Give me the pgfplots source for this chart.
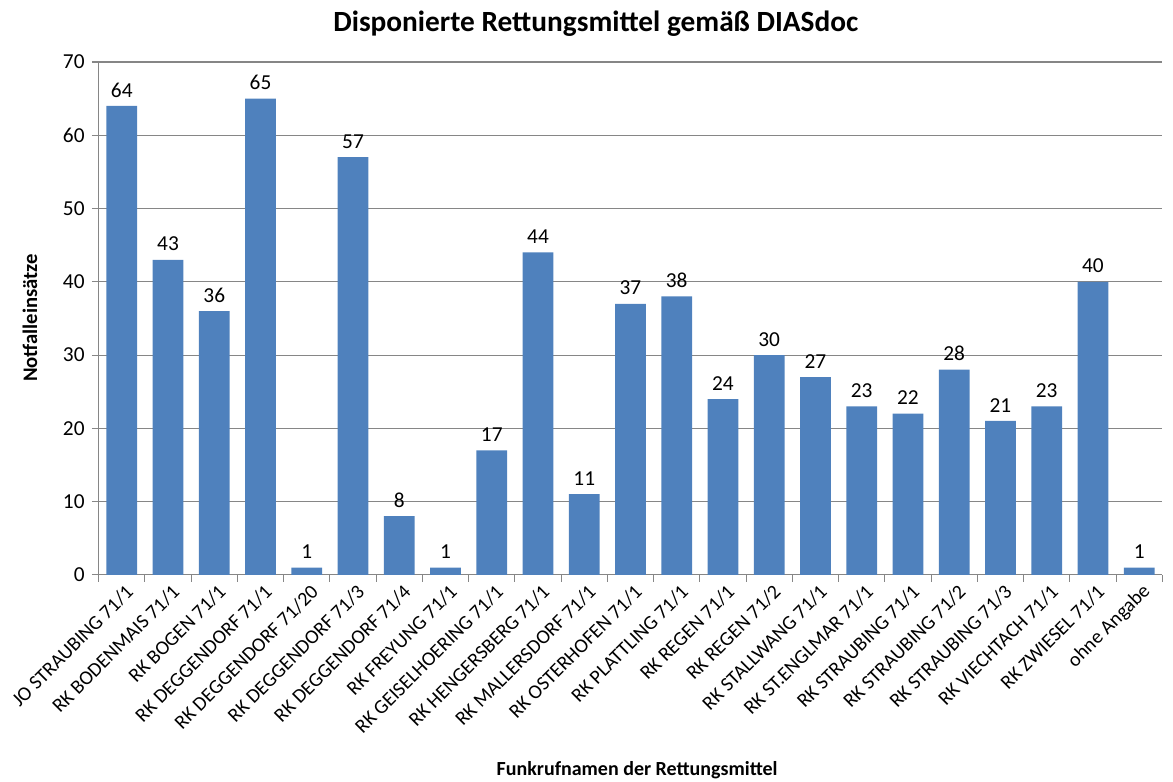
\documentclass[border=0pt]{standalone}
\usepackage{fontspec}
\setmainfont{Carlito}
\usepackage{pgfplots}
\pgfplotsset{compat=1.18}
\definecolor{barblue}{HTML}{4F81BD}
\definecolor{gridgray}{HTML}{868686}

\pgfplotstableread{
idx val
0 64
1 43
2 36
3 65
4 1
5 57
6 8
7 1
8 17
9 44
10 11
11 37
12 38
13 24
14 30
15 27
16 23
17 22
18 28
19 21
20 23
21 40
22 1
}\einsaetze

\begin{document}
\begin{tikzpicture}
\useasboundingbox (0,0) rectangle (880pt,586.5pt);
\begin{axis}[
  at={(74pt,155.25pt)}, anchor=south west,
  scale only axis, width=798pt, height=384.75pt,
  xmin=-0.5, xmax=22.5, ymin=0, ymax=70,
  ytick={0,10,...,70},
  xtick=data,
  xticklabels={JO STRAUBING 71/1,RK BODENMAIS 71/1,RK BOGEN 71/1,RK DEGGENDORF 71/1,RK DEGGENDORF 71/20,RK DEGGENDORF 71/3,RK DEGGENDORF 71/4,RK FREYUNG 71/1,RK GEISELHOERING 71/1,RK HENGERSBERG 71/1,RK MALLERSDORF 71/1,RK OSTERHOFEN 71/1,RK PLATTLING 71/1,RK REGEN 71/1,RK REGEN 71/2,RK STALLWANG 71/1,RK ST.ENGLMAR 71/1,RK STRAUBING 71/1,RK STRAUBING 71/2,RK STRAUBING 71/3,RK VIECHTACH 71/1,RK ZWIESEL 71/1,ohne Angabe},
  minor xtick={-0.5,0.5,...,22.5},
  x tick style={draw=none},
  minor x tick style={draw=gridgray, thick},
  y tick style={draw=gridgray, thick},
  tick align=outside,
  major tick length=5pt, minor tick length=5pt,
  axis x line*=bottom, axis y line*=left,
  x axis line style={draw=gridgray, thick, -},
  y axis line style={draw=gridgray, thick, -},
  ymajorgrids, grid style={draw=gridgray, thick},
  /pgf/number format/assume math mode=true,
  yticklabel style={font=\fontsize{16}{18}\selectfont, xshift=-2pt},
  xticklabel style={font=\fontsize{15}{18}\selectfont, rotate=45, anchor=east, yshift=-8pt, xshift=4pt},
  clip=false,
  nodes near coords,
  every node near coord/.append style={font=\fontsize{16}{18}\selectfont, black, yshift=3pt},
]
\addplot[ybar, bar width=23pt, fill=barblue, draw=none] table[x=idx, y=val] {\einsaetze};
\end{axis}
\node[font=\fontsize{22}{26}\selectfont\bfseries] at (447pt,569pt) {Disponierte Rettungsmittel gemäß DIASdoc};
\node[font=\fontsize{15.5}{18}\selectfont\bfseries, rotate=90] at (22.5pt,348pt) {Notfalleinsätze};
\node[font=\fontsize{15}{18}\selectfont\bfseries] at (478pt,9pt) {Funkrufnamen der Rettungsmittel};
\end{tikzpicture}
\end{document}
